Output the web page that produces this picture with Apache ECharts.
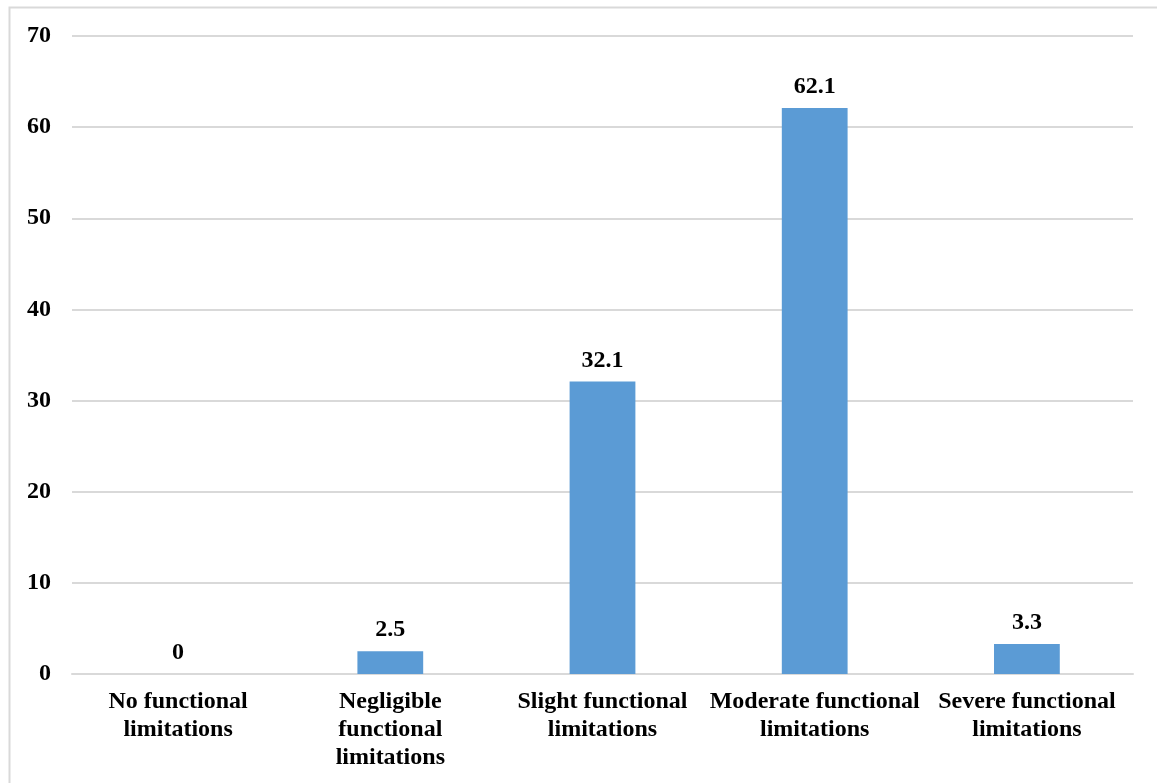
<!DOCTYPE html>
<html>
<head>
<meta charset="utf-8">
<style>
  html, body { margin: 0; padding: 0; background: #ffffff; }
  #chart { width: 1157px; height: 783px; }
</style>
<script src="https://cdn.jsdelivr.net/npm/echarts@6/dist/echarts.min.js"></script>
</head>
<body>
<div id="chart"></div>
<script>
// Degree of functional limitation (%)
const categories = [
  'No functional\nlimitations',
  'Negligible\nfunctional\nlimitations',
  'Slight functional\nlimitations',
  'Moderate functional\nlimitations',
  'Severe functional\nlimitations'
];
const values = [0, 2.5, 32.1, 62.1, 3.3];
const yTicks = { min: 0, max: 70, interval: 10 };

const font = '"Liberation Serif", "Times New Roman", serif';
const chart = echarts.init(document.getElementById('chart'), null, { renderer: 'canvas' });

chart.setOption({
  animation: false,
  backgroundColor: '#ffffff',
  graphic: [{
    type: 'rect',
    shape: { x: 9.5, y: 7.5, width: 1160, height: 800 },
    style: { fill: 'none', stroke: '#d9d9d9', lineWidth: 2 },
    silent: true
  }],
  grid: { left: 72, right: 24, top: 36, bottom: 109, containLabel: false },
  xAxis: {
    type: 'category',
    data: categories,
    axisTick: { show: false },
    axisLine: { show: true, lineStyle: { color: '#d9d9d9', width: 2 } },
    axisLabel: {
      interval: 0,
      margin: 14,
      color: '#000000',
      fontFamily: font,
      fontWeight: 'bold',
      fontSize: 24,
      lineHeight: 28
    }
  },
  yAxis: {
    type: 'value',
    min: yTicks.min,
    max: yTicks.max,
    interval: yTicks.interval,
    axisLine: { show: false },
    axisTick: { show: false },
    splitLine: { lineStyle: { color: '#d9d9d9', width: 2 } },
    axisLabel: {
      margin: 21,
      color: '#000000',
      fontFamily: font,
      fontWeight: 'bold',
      fontSize: 24
    }
  },
  series: [{
    type: 'bar',
    data: values,
    barWidth: '31%',
    itemStyle: { color: '#5b9bd5' },
    label: {
      show: true,
      position: 'top',
      distance: 9,
      color: '#000000',
      fontFamily: font,
      fontWeight: 'bold',
      fontSize: 24
    }
  }]
});
</script>
</body>
</html>
